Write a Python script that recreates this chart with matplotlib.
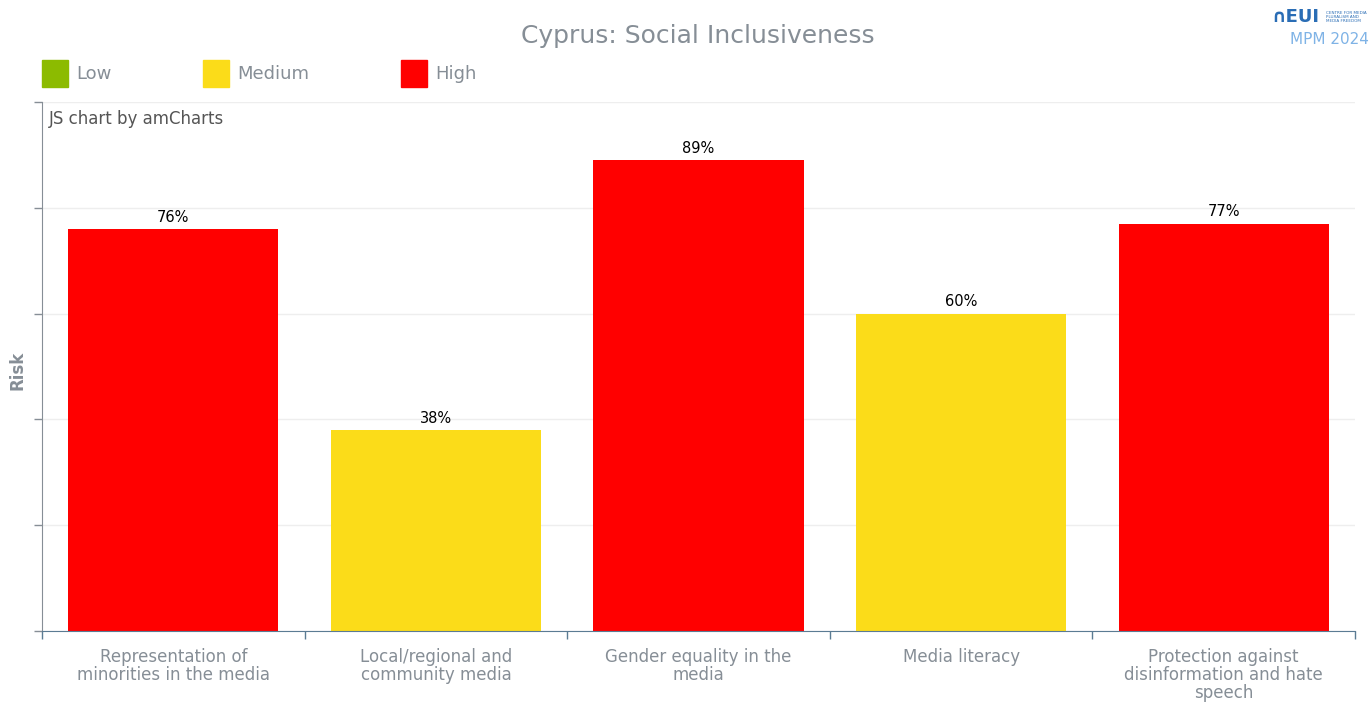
import matplotlib.pyplot as plt
from matplotlib.patches import Rectangle

# data
categories = ['Representation of\nminorities in the media',
              'Local/regional and\ncommunity media',
              'Gender equality in the\nmedia',
              'Media literacy',
              'Protection against\ndisinformation and hate\nspeech']
risk = [76, 38, 89, 60, 77]
levels = ['High', 'Medium', 'High', 'Medium', 'High']
legend_names = ['Low', 'Medium', 'High']
level_colors = {'Low': '#8cbb00', 'Medium': '#fbdc19', 'High': '#ff0000'}

GRAY = '#868e96'
AXIS_BLUE = '#5b7b93'

fig = plt.figure(figsize=(13.71, 7.03), dpi=100)
ax = fig.add_axes([42 / 1371, 1 - 631 / 703, 1313 / 1371, 529 / 703])

x = range(len(categories))
colors = [level_colors[l] for l in levels]
bars = ax.bar(x, risk, width=0.8, color=colors, zorder=2)
for b, v in zip(bars, risk):
    ax.text(b.get_x() + b.get_width() / 2, v + 0.8, f'{v}%', ha='center', va='bottom',
            fontsize=10.5, color='#000000')

ax.set_xlim(-0.5, len(categories) - 0.5)
ax.set_ylim(0, 100)
ax.set_yticks([0, 20, 40, 60, 80, 100])
ax.set_yticklabels([])
ax.grid(axis='y', color='#eeeeee', linewidth=1, zorder=0)
ax.tick_params(axis='y', length=6, color=GRAY, width=1)

ax.set_xticks([i - 0.5 for i in range(len(categories) + 1)])
ax.set_xticklabels([])
ax.set_xticks(list(x), minor=True)
ax.set_xticklabels(categories, minor=True, fontsize=12, color=GRAY, va='top',
                   linespacing=1.02)
ax.tick_params(axis='x', which='minor', length=0, pad=12)
ax.tick_params(axis='x', which='major', length=6, color=AXIS_BLUE, width=1)

for s in ['top', 'right']:
    ax.spines[s].set_visible(False)
ax.spines['left'].set_color(GRAY)
ax.spines['bottom'].set_color(AXIS_BLUE)

fig.text(17 / 1371, 1 - 370 / 703, 'Risk', rotation=90, ha='center', va='center',
         fontsize=12, fontweight='bold', color=GRAY)
ax.text(0.005, 0.985, 'JS chart by amCharts', transform=ax.transAxes, fontsize=12,
        color='#555555', va='top', ha='left')

fig.text(698 / 1371, 1 - 36 / 703, 'Cyprus: Social Inclusiveness', ha='center', va='center',
         fontsize=18, color=GRAY)

# legend
leg_x = [42, 203, 401]
for name, lx in zip(legend_names, leg_x):
    fig.patches.append(Rectangle((lx / 1371, 1 - 87 / 703), 26 / 1371, 27 / 703,
                                 transform=fig.transFigure, color=level_colors[name]))
    fig.text((lx + 34) / 1371, 1 - 74 / 703, name, ha='left', va='center', fontsize=13,
             color=GRAY)

# logo
fig.text(1271 / 1371, 1 - 17 / 703, '\u2229EUI', ha='left', va='center', fontsize=13,
         fontweight='bold', color='#2a6db5')
fig.text(1326 / 1371, 1 - 17 / 703, 'CENTRE FOR MEDIA\nPLURALISM AND\nMEDIA FREEDOM',
         ha='left', va='center', fontsize=3, color='#2a6db5', linespacing=1.0)
fig.text(1369 / 1371, 1 - 39 / 703, 'MPM 2024', ha='right', va='center', fontsize=11,
         color='#7fb3e6')

fig.savefig('out.png', dpi=100)
